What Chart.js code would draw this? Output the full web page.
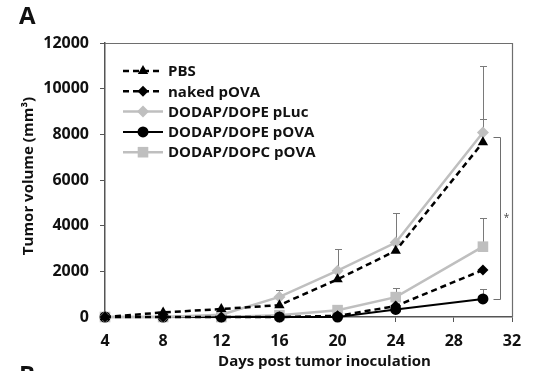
<!DOCTYPE html>
<html>
<head>
<meta charset="utf-8">
<script src="https://cdn.jsdelivr.net/npm/chart.js@4/dist/chart.umd.min.js"></script>
<style>
html,body{margin:0;padding:0;background:#fff;}
#wrap{width:554px;height:371px;position:relative;}
</style>
</head>
<body>
<div id="wrap"><canvas id="c"></canvas></div>
<script>
// ---- data ----
const days = [4, 8, 12, 16, 20, 24, 30];
const seriesNames = ["PBS", "naked pOVA", "DODAP/DOPE pLuc", "DODAP/DOPE pOVA", "DODAP/DOPC pOVA"];
const pbs        = [0, 200, 350, 520, 1650, 2900, 7650];
const nakedPova  = [0, 0, 0, 0, 50, 480, 2060];
const dopePluc   = [0, 0, 100, 880, 2030, 3260, 8080];
const dopePova   = [0, 0, 0, 0, 0, 330, 790];
const dopcPova   = [0, 0, 0, 80, 300, 870, 3080];
// upward error (SD) per point
const pbsErr       = [0, 0, 0, 0, 0, 0, 1030];
const nakedPovaErr = [0, 0, 0, 0, 0, 0, 0];
const dopePlucErr  = [0, 0, 0, 300, 950, 1300, 2920];
const dopePovaErr  = [0, 0, 0, 0, 0, 0, 440];
const dopcPovaErr  = [0, 0, 0, 0, 0, 400, 1260];
const xTicks = [4, 8, 12, 16, 20, 24, 28, 32];
const yTicks = [0, 2000, 4000, 6000, 8000, 10000, 12000];
const xTitle = "Days post tumor inoculation";
const yTitle = "Tumor volume (mm³)";
const sigLabel = "*";

const GRAY = "#bfbfbf";
const FONT = "'Open Sans', 'Liberation Sans', sans-serif";

function pts(arr){ return days.map((d,i)=>({x:d, y:arr[i]})); }

const datasets = [
  {label: seriesNames[0], data: pts(pbs), err: pbsErr, borderColor:"#000", backgroundColor:"#000", borderDash:[6,4], borderWidth:2.5, pointStyle:"triangle", pointRadius:6},
  {label: seriesNames[1], data: pts(nakedPova), err: nakedPovaErr, borderColor:"#000", backgroundColor:"#000", borderDash:[6,4], borderWidth:2.5, pointStyle:"rectRot", pointRadius:5.5},
  {label: seriesNames[2], data: pts(dopePluc), err: dopePlucErr, borderColor:GRAY, backgroundColor:GRAY, borderDash:[], borderWidth:2.5, pointStyle:"rectRot", pointRadius:6},
  {label: seriesNames[3], data: pts(dopePova), err: dopePovaErr, borderColor:"#000", backgroundColor:"#000", borderDash:[], borderWidth:2, pointStyle:"circle", pointRadius:5.5},
  {label: seriesNames[4], data: pts(dopcPova), err: dopcPovaErr, borderColor:GRAY, backgroundColor:GRAY, borderDash:[], borderWidth:2.5, pointStyle:"rect", pointRadius:7.5}
];
datasets.forEach(d=>{ d.pointBorderWidth=0; d.pointHoverRadius=d.pointRadius; d.tension=0; d.fill=false; d.clip=false; });

const decor = {
  id: "decor",
  beforeDatasetsDraw(chart){
    const {ctx, chartArea:a, scales:{x, y}} = chart;
    ctx.save();
    // frame top/right
    ctx.strokeStyle = "#6e6e6e"; ctx.lineWidth = 1.2;
    ctx.beginPath();
    ctx.moveTo(a.left, a.top+0.5); ctx.lineTo(a.right+0.5, a.top+0.5); ctx.lineTo(a.right+0.5, a.bottom);
    ctx.stroke();
    // error bars (upward)
    ctx.strokeStyle = "#7a7a7a"; ctx.lineWidth = 1;
    chart.data.datasets.forEach(ds=>{
      ds.data.forEach((p,i)=>{
        const e = ds.err[i];
        if(!e) return;
        const px = Math.round(x.getPixelForValue(p.x))+0.5;
        const y0 = y.getPixelForValue(p.y);
        const y1 = Math.round(y.getPixelForValue(p.y+e))+0.5;
        ctx.beginPath();
        ctx.moveTo(px, y0); ctx.lineTo(px, y1);
        ctx.moveTo(px-3.5, y1); ctx.lineTo(px+3.5, y1);
        ctx.stroke();
      });
    });
    ctx.restore();
  },
  afterDatasetsDraw(chart){
    const {ctx, chartArea:a, scales:{x, y}} = chart;
    ctx.save();
    // significance bracket at last day
    const last = days.length-1;
    const xb = x.getPixelForValue(days[last]);
    const yt = Math.round(y.getPixelForValue((pbs[last]+dopePluc[last])/2))+0.5;
    const yb = Math.round(y.getPixelForValue(dopePova[last]))+0.5;
    const x1 = Math.round(xb+10)+0.5, x2 = Math.round(xb+17)+0.5;
    ctx.strokeStyle = "#6e6e6e"; ctx.lineWidth = 1;
    ctx.beginPath();
    ctx.moveTo(x1, yt); ctx.lineTo(x2, yt); ctx.lineTo(x2, yb); ctx.lineTo(x1, yb);
    ctx.stroke();
    ctx.fillStyle = "#444"; ctx.font = "10px " + FONT;
    ctx.textAlign = "center"; ctx.textBaseline = "middle";
    ctx.fillText(sigLabel, x2+6, (yt+yb)/2);
    // legend
    const lx0 = a.left+18, lx1 = a.left+58, tx = a.left+63;
    chart.data.datasets.forEach((ds,i)=>{
      const ly = a.top + 28 + i*20.3;
      ctx.save();
      ctx.strokeStyle = ds.borderColor; ctx.lineWidth = ds.borderWidth;
      ctx.setLineDash(ds.borderDash||[]);
      ctx.beginPath(); ctx.moveTo(lx0, ly); ctx.lineTo(lx1, ly); ctx.stroke();
      ctx.setLineDash([]);
      ctx.fillStyle = ds.backgroundColor;
      Chart.helpers.drawPoint(ctx, {pointStyle: ds.pointStyle, radius: ds.pointRadius, rotation:0, borderWidth:0}, (lx0+lx1)/2, ly);
      ctx.restore();
      ctx.fillStyle = "#111"; ctx.font = "bold 15px " + FONT;
      ctx.textAlign = "left"; ctx.textBaseline = "middle";
      ctx.fillText(ds.label, tx, ly+1);
    });
    // titles
    ctx.fillStyle = "#111";
    ctx.font = "bold 15px " + FONT; ctx.textAlign = "center"; ctx.textBaseline = "middle";
    ctx.fillText(xTitle, (a.left+a.right)/2 + 16, 362);
    ctx.save();
    ctx.translate(29, 176);
    ctx.rotate(-Math.PI/2);
    ctx.fillText(yTitle, 0, 0);
    ctx.restore();
    ctx.font = "bold 24px " + FONT; ctx.textAlign = "left"; ctx.textBaseline = "alphabetic";
    ctx.fillText("A", 19, 24);
    ctx.fillText("B", 19, 383);
    ctx.restore();
  }
};

new Chart(document.getElementById("c"), {
  type: "line",
  data: { datasets },
  options: {
    responsive: true, maintainAspectRatio: false, animation: false,
    layout: { padding: {left: 0, top: 43, right: 42, bottom: 0} },
    plugins: { legend: {display:false}, tooltip: {enabled:false} },
    scales: {
      x: {
        type: "linear", min: 4, max: 32,
        afterBuildTicks(s){ s.ticks = xTicks.map(v=>({value:v})); },
        afterFit(s){ s.height = 54; },
        grid: {display:true, drawOnChartArea:false, drawTicks:true, tickLength:5, color:"#555", lineWidth:1},
        border: {display:true, color:"#555", width:1.5},
        ticks: {color:"#111", font:{family:FONT, size:16, weight:"bold"}, padding:10, maxRotation:0, autoSkip:false, callback:v=>String(v)}
      },
      y: {
        type: "linear", min: 0, max: 12000,
        afterBuildTicks(s){ s.ticks = yTicks.map(v=>({value:v})); },
        afterFit(s){ s.width = 105; },
        grid: {display:true, drawOnChartArea:false, drawTicks:true, tickLength:5, color:"#555", lineWidth:1},
        border: {display:true, color:"#555", width:1.5},
        ticks: {color:"#111", font:{family:FONT, size:16, weight:"bold"}, padding:11, autoSkip:false, callback:v=>String(v)}
      }
    }
  },
  plugins: [decor]
});
</script>
</body>
</html>
